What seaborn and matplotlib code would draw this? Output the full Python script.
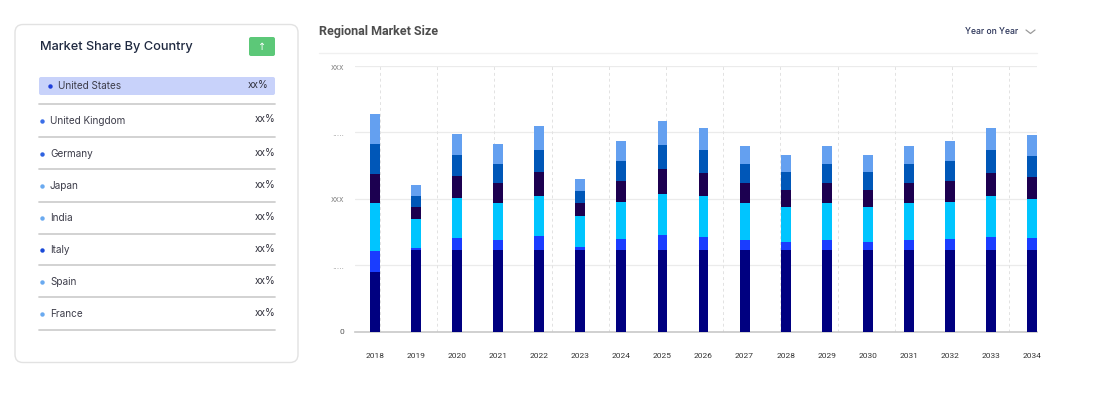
import numpy as np
import pandas as pd
import matplotlib
matplotlib.use("Agg")
import matplotlib.pyplot as plt
from matplotlib.patches import FancyBboxPatch
from matplotlib.lines import Line2D
import seaborn as sns

# ---------------- data ----------------
years = [str(y) for y in range(2018, 2035)]
seg_navy  = [0.90, 1.23, 1.23, 1.23, 1.23, 1.23, 1.23, 1.23, 1.23, 1.23, 1.23, 1.23, 1.23, 1.23, 1.23, 1.23, 1.23]
seg_blue  = [0.31, 0.03, 0.18, 0.15, 0.21, 0.045, 0.16, 0.22, 0.20, 0.15, 0.115, 0.15, 0.115, 0.15, 0.16, 0.20, 0.18]
seg_cyan  = [0.72, 0.44, 0.60, 0.56, 0.61, 0.46, 0.57, 0.63, 0.61, 0.555, 0.53, 0.555, 0.53, 0.555, 0.57, 0.61, 0.585]
seg_dark  = [0.45, 0.17, 0.33, 0.30, 0.35, 0.20, 0.31, 0.365, 0.35, 0.30, 0.265, 0.30, 0.265, 0.30, 0.31, 0.35, 0.33]
seg_med   = [0.45, 0.17, 0.32, 0.29, 0.34, 0.185, 0.30, 0.36, 0.34, 0.285, 0.26, 0.285, 0.26, 0.285, 0.30, 0.34, 0.325]
seg_light = [0.44, 0.17, 0.32, 0.29, 0.35, 0.18, 0.295, 0.36, 0.34, 0.28, 0.255, 0.28, 0.255, 0.28, 0.295, 0.34, 0.315]
segments = [seg_navy, seg_blue, seg_cyan, seg_dark, seg_med, seg_light]
seg_colors = ["#000080", "#1a3dff", "#00c5ff", "#1c0050", "#0057b8", "#64a0f0"]

y_tick_vals = [0, 1, 2, 3, 4]
y_tick_labels = ["0", ".....", "xxx", ".....", "xxx"]

countries = ["United States", "United Kingdom", "Germany", "Japan", "India", "Italy", "Spain", "France"]
shares = ["xx%", "xx%", "xx%", "xx%", "xx%", "xx%", "xx%", "xx%"]
dot_colors = ["#1f3fdb", "#3a6ee8", "#2f62e0", "#6aaaf0", "#6aaaf0", "#1a4ad8", "#6aaaf0", "#6aaaf0"]

# ---------------- figure ----------------
sns.set_theme(style="white")
plt.rcParams["font.family"] = ["Inter", "DejaVu Sans"]

W, H = 1099, 395
fig = plt.figure(figsize=(W / 100, H / 100), dpi=100)
fig.patch.set_facecolor("white")

# overlay axes in pixel coordinates (top-left origin)
ov = fig.add_axes([0, 0, 1, 1], zorder=0)
ov.set_xlim(0, W)
ov.set_ylim(H, 0)
ov.axis("off")
ov.patch.set_alpha(0)

# left card
card = FancyBboxPatch((15, 24.5), 283, 338, boxstyle="round,pad=0,rounding_size=8",
                      facecolor="white", edgecolor="#e2e2e2", lw=1.0)
ov.add_patch(card)
ov.text(40, 47, "Market Share By Country", fontsize=9.2, color="#1f2940",
        fontweight="medium", va="center", ha="left")
btn = FancyBboxPatch((249, 37), 26, 19, boxstyle="round,pad=0,rounding_size=2",
                     facecolor="#5cc878", edgecolor="none")
ov.add_patch(btn)
ov.text(262, 46.5, "↑", fontsize=7, color="white", ha="center", va="center",
        family=["DejaVu Sans"])

hl = FancyBboxPatch((39, 77), 236, 18, boxstyle="round,pad=0,rounding_size=2",
                    facecolor="#c8d2fa", edgecolor="none")
ov.add_patch(hl)

row_y = [86, 121, 154, 186, 218, 250, 282, 314]
sep_y = [104, 137, 169, 202, 234, 265, 297, 330]
for i, (name, val, dc) in enumerate(zip(countries, shares, dot_colors)):
    y = row_y[i]
    if i == 0:
        dx, tx, vx = 50, 58, 268
    else:
        dx, tx, vx = 41.5, 50, 275
    ov.plot([dx], [y], marker="o", ms=3.2, color=dc, mec="none")
    ov.text(tx, y, name, fontsize=7.2, color="#3d3d4a", va="center", ha="left")
    ov.text(vx, y - 1.5, val, fontsize=7.2, color="#2e2e3a", va="center", ha="right")
    ov.add_line(Line2D([39, 275], [sep_y[i], sep_y[i]], color="#cfcfcf", lw=1.3))

# chart header
ov.text(319, 32, "Regional Market Size", fontsize=9.0, fontweight="bold", color="#4d4d4d",
        va="center", ha="left", family=["Roboto", "DejaVu Sans"])
ov.add_line(Line2D([319, 1037], [52.7, 52.7], color="#f0f0f0", lw=1.0))
ov.text(965, 31, "Year on Year", fontsize=6.2, color="#2a3358", fontweight="medium",
        va="center", ha="left")
ov.add_line(Line2D([1026, 1030.5, 1035], [30, 33.5, 30], color="#9a9a9a", lw=0.9))

# ---------------- bar chart ----------------
x0, x1 = 355, 1037
ytop, ybot = 66, 331.7
ax = fig.add_axes([x0 / W, (H - ybot) / H, (x1 - x0) / W, (ybot - ytop) / H], zorder=1)
ax.patch.set_alpha(0)

df = pd.DataFrame({"year": years})
cum = np.zeros(len(years))
cums = []
for seg in segments:
    cum = cum + np.array(seg)
    cums.append(cum.copy())

# draw from top (largest cumulative) down so each lower segment overlays
for c, col in reversed(list(zip(cums, seg_colors))):
    d = df.copy()
    d["value"] = c
    sns.barplot(data=d, x="year", y="value", color=col, width=0.24,
                saturation=1, linewidth=0, ax=ax, zorder=3)

ax.set_ylim(0, 4)
ax.set_xlim(-0.487, 16.12)
ax.set_yticks(y_tick_vals)
ax.set_yticklabels(y_tick_labels)
ax.set_xlabel("")
ax.set_ylabel("")

for yv in y_tick_vals[1:]:
    ax.axhline(yv, color="#ebebeb", lw=0.9, zorder=1)
vgrid = 0.12 + 1.393 * np.arange(12)
for xv in vgrid:
    ax.axvline(xv, color="#e2e2e2", lw=0.7, ls=(0, (3, 3)), zorder=1)

for s in ["top", "right", "left"]:
    ax.spines[s].set_visible(False)
ax.spines["bottom"].set_color("#c8c8c8")
ax.spines["bottom"].set_linewidth(1.2)

ax.tick_params(axis="y", length=0, pad=8, labelsize=5.5, labelcolor="#8a8a8a")
ax.tick_params(axis="x", length=0, pad=15.5, labelsize=6, labelcolor="#333333")
for lbl in ax.get_xticklabels():
    lbl.set_family(["Roboto", "DejaVu Sans"])
for lbl in ax.get_yticklabels():
    lbl.set_family(["DejaVu Sans"])
ax.get_yticklabels()[0].set_color("#555555")
ax.get_yticklabels()[0].set_fontsize(6)
ax.get_yticklabels()[0].set_family(["Roboto", "DejaVu Sans"])

fig.savefig("out.png", dpi=100, facecolor="white")
